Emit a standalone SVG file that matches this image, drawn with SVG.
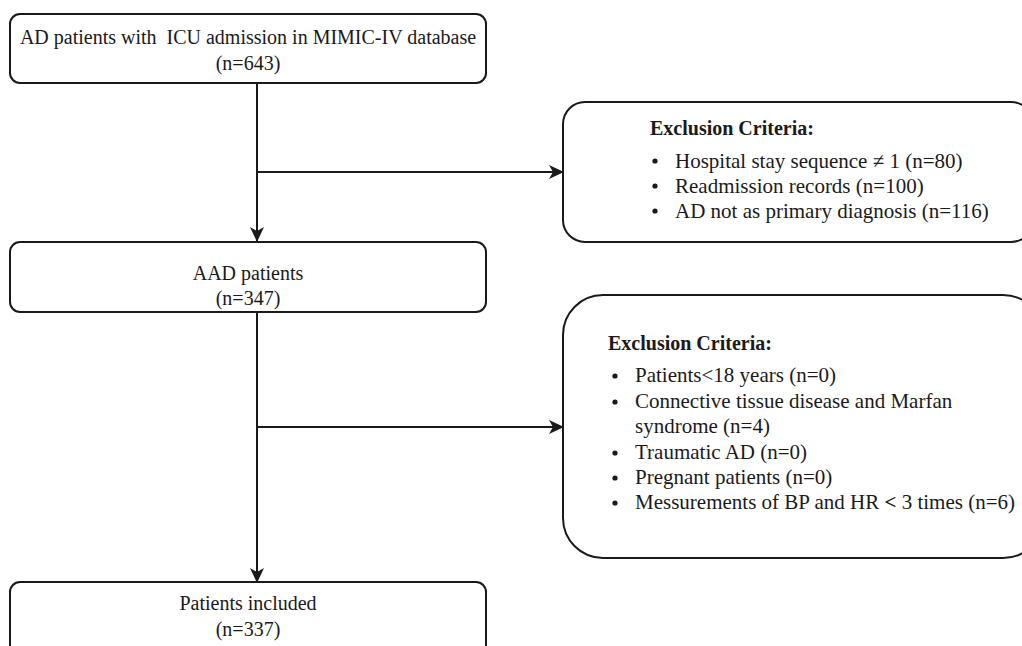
<svg xmlns="http://www.w3.org/2000/svg" width="1022" height="646" viewBox="0 0 1022 646">
<style>
.box{fill:#fff;stroke:#1a1a1a;stroke-width:2}
.t{font-family:"Liberation Serif","Times New Roman",serif;font-size:20px;fill:#1a1a1a}
.e{font-size:21px}
.c{text-anchor:middle}
.h{font-weight:bold}
.ln{stroke:#1a1a1a;stroke-width:2;fill:none}
.b{fill:#1a1a1a}
</style>
<defs>
<marker id="arr" markerWidth="16" markerHeight="14" refX="14" refY="7" orient="auto" markerUnits="userSpaceOnUse">
<path d="M0,0 L15,7 L0,14 L4,7 z" fill="#1a1a1a"/>
</marker>
</defs>
<rect width="1022" height="646" fill="#fff"/>
<g id="connectors">
<line class="ln" x1="257" y1="83" x2="257" y2="241" marker-end="url(#arr)"/>
<line class="ln" x1="257" y1="172" x2="563" y2="172" marker-end="url(#arr)"/>
<line class="ln" x1="257" y1="312" x2="257" y2="582" marker-end="url(#arr)"/>
<line class="ln" x1="257" y1="427" x2="563" y2="427" marker-end="url(#arr)"/>
</g>
<g id="start">
<rect class="box" x="10" y="14" width="476" height="69" rx="10"/>
<text class="t c" x="248" y="44" xml:space="preserve">AD patients with  ICU admission in MIMIC-IV database</text>
<text class="t c" x="248" y="70">(n=643)</text>
</g>
<g id="excl1">
<rect class="box" x="563" y="102" width="470" height="140" rx="22"/>
<text class="t h" x="650" y="135">Exclusion Criteria:</text>
<circle class="b" cx="655" cy="161" r="2.6"/><text class="t e" x="675" y="168">Hospital stay sequence ≠ 1 (n=80)</text>
<circle class="b" cx="655" cy="186" r="2.6"/><text class="t e" x="675" y="193">Readmission records (n=100)</text>
<circle class="b" cx="655" cy="211" r="2.6"/><text class="t e" x="675" y="218">AD not as primary diagnosis (n=116)</text>
</g>
<g id="aad">
<rect class="box" x="10" y="242" width="476" height="70" rx="10"/>
<text class="t c" x="248" y="280">AAD patients</text>
<text class="t c" x="248" y="305">(n=347)</text>
</g>
<g id="excl2">
<rect class="box" x="563" y="295" width="480" height="263" rx="40"/>
<text class="t h" x="608" y="350">Exclusion Criteria:</text>
<circle class="b" cx="615" cy="376" r="2.6"/><text class="t e" x="635" y="382">Patients&lt;18 years (n=0)</text>
<circle class="b" cx="615" cy="402" r="2.6"/><text class="t e" x="635" y="408">Connective tissue disease and Marfan</text>
<text class="t e" x="635" y="433">syndrome (n=4)</text>
<circle class="b" cx="615" cy="453" r="2.6"/><text class="t e" x="635" y="459">Traumatic AD (n=0)</text>
<circle class="b" cx="615" cy="478" r="2.6"/><text class="t e" x="635" y="484">Pregnant patients (n=0)</text>
<circle class="b" cx="615" cy="503" r="2.6"/><text class="t e" x="635" y="509">Messurements of BP and HR <tspan class="h">&lt;</tspan> 3 times (n=6)</text>
</g>
<g id="included">
<rect class="box" x="10" y="582" width="476" height="80" rx="10"/>
<text class="t c" x="248" y="610">Patients included</text>
<text class="t c" x="248" y="636">(n=337)</text>
</g>
</svg>
